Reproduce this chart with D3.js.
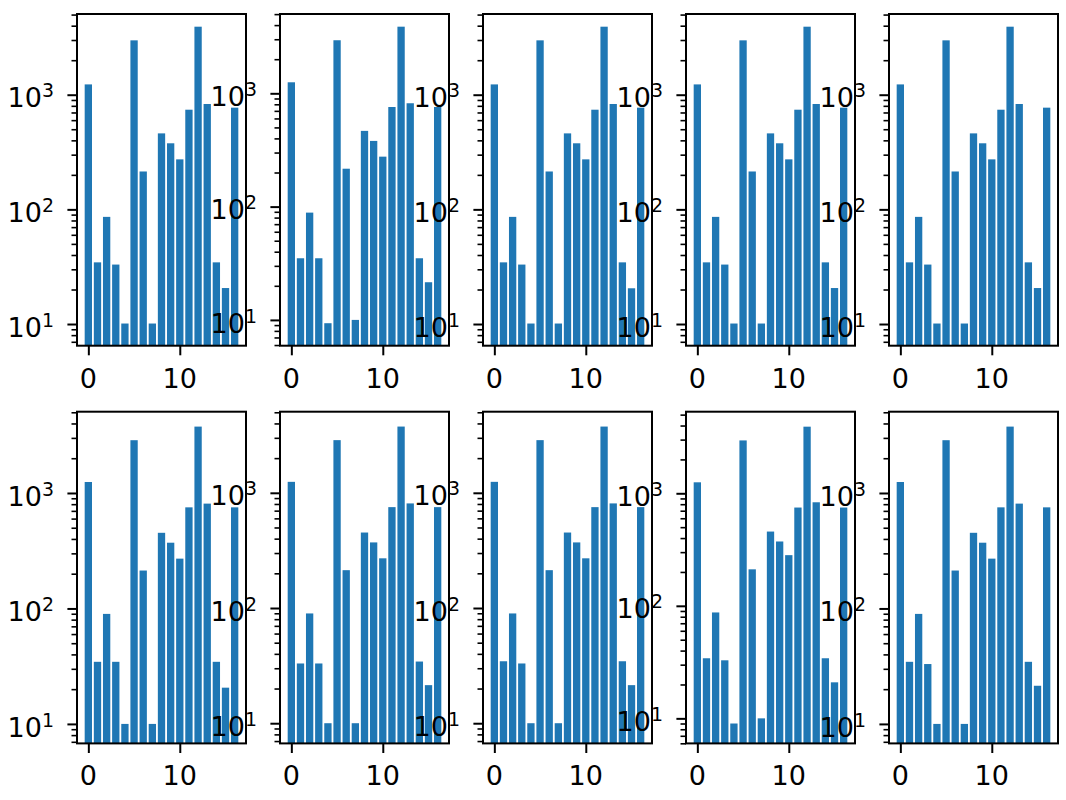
<!DOCTYPE html>
<html>
<head>
<meta charset="utf-8">
<script src="https://cdn.jsdelivr.net/npm/d3@7"></script>
<style>
  html, body { margin: 0; padding: 0; background: #ffffff; }
  svg { display: block; }
  text { font-family: "DejaVu Sans", sans-serif; fill: #000; }
</style>
</head>
<body>
<svg id="chart" width="1066" height="800"></svg>
<script>
// ---------------- data ----------------
const categories = [0, 1, 2, 3, 4, 5, 6, 7, 8, 9, 10, 11, 12, 13, 14, 15, 16];

const panel1  = [1230, 34.5, 86, 33, 10.1, 2980, 214, 10.1, 460, 377, 273, 740, 3920, 830, 34.5, 20.6, 771];
const panel2  = [1251, 35, 88.5, 35, 9.35, 2940, 216, 10, 466, 380, 276, 757, 3873, 817, 35, 21.5, 757];
const panel3  = [1230, 34.5, 86, 33, 10.1, 2980, 214, 10.1, 460, 377, 273, 740, 3920, 830, 34.5, 20.5, 771];
const panel4  = [1230, 34.5, 86, 33, 10.1, 2980, 214, 10.1, 460, 377, 273, 740, 3920, 830, 34.5, 20.6, 771];
const panel5  = [1230, 34.5, 86, 33, 10.1, 2980, 214, 10.1, 460, 377, 273, 740, 3920, 830, 34.5, 20.6, 771];
const panel6  = [1245, 34.5, 89.7, 34.5, 10, 2865, 213, 10, 452, 371, 270, 751, 3758, 809, 34.5, 20.6, 751];
const panel7  = [1245, 33, 89.7, 33, 10, 2865, 213, 10, 452, 371, 270, 751, 3758, 809, 34.3, 21.4, 751];
const panel8  = [1245, 34.5, 89.7, 33, 10, 2865, 213, 10, 452, 371, 270, 751, 3758, 809, 34.5, 21.4, 751];
const panel9  = [1252, 34.2, 87.3, 32.8, 9.0, 2950, 211, 10, 457, 373, 282, 747, 3908, 832, 34.2, 20.9, 747];
const panel10 = [1245, 34.5, 89.7, 33, 10, 2865, 213, 10, 452, 371, 270, 751, 3758, 809, 34.5, 21.4, 751];

const panels = [panel1, panel2, panel3, panel4, panel5, panel6, panel7, panel8, panel9, panel10];

// y-axis limits (log scale) of each panel
const yMins = [6.47, 5.92, 6.47, 6.47, 6.47, 6.78, 6.68, 6.68, 5.99, 6.78];
const yMaxs = [5058, 5012, 5058, 5058, 5058, 5058, 5058, 5058, 5309, 5058];

const xTicks = [0, 10];
const xTickLabels = ["0", "10"];
const yMajorTicks = [10, 100, 1000];
const yMajorExponents = ["1", "2", "3"];
const yMinorMantissas = [2, 3, 4, 5, 6, 7, 8, 9];
const yMinorDecades = [1, 10, 100, 1000];
const barWidth = 0.8;
const xDomain = [-1.24, 17.24];

// ---------------- layout ----------------
const nCols = 5;
const colLeft0 = 77, colStep = 203, axW = 169;
const rowTops = [14, 411.7], axH = 331.7;
const fontSize = 27;
const majorLen = 9.6, minorLen = 5.5;
const barColor = "#1f77b4";

const svg = d3.select("#chart");

panels.forEach((vals, i) => {
  const col = i % nCols, row = Math.floor(i / nCols);
  const g = svg.append("g")
    .attr("transform", `translate(${colLeft0 + col * colStep},${rowTops[row]})`);

  const x = d3.scaleLinear().domain(xDomain).range([0, axW]);
  const y = d3.scaleLog().domain([yMins[i], yMaxs[i]]).range([axH, 0]);

  const clipId = "clip" + i;
  g.append("clipPath").attr("id", clipId)
    .append("rect").attr("x", 0).attr("y", 0).attr("width", axW).attr("height", axH);

  // bars
  g.append("g").attr("clip-path", `url(#${clipId})`)
    .selectAll("rect").data(categories)
    .join("rect")
    .attr("x", c => x(c - barWidth / 2))
    .attr("width", x(barWidth) - x(0))
    .attr("y", c => y(vals[c]))
    .attr("height", c => axH - y(vals[c]))
    .attr("fill", barColor);

  // minor y ticks
  const minors = [];
  yMinorDecades.forEach(d => yMinorMantissas.forEach(m => {
    const v = m * d;
    if (v >= yMins[i] && v <= yMaxs[i]) minors.push(v);
  }));
  const minorAxis = g.append("g")
    .call(d3.axisLeft(y).tickValues(minors).tickSize(minorLen).tickFormat(""));
  minorAxis.select(".domain").remove();
  minorAxis.selectAll("line").attr("stroke", "#000").attr("stroke-width", 1.6);

  // major y ticks
  const majors = yMajorTicks.filter(v => v >= yMins[i] && v <= yMaxs[i]);
  const majorAxis = g.append("g")
    .call(d3.axisLeft(y).tickValues(majors).tickSize(majorLen).tickFormat(""));
  majorAxis.select(".domain").remove();
  majorAxis.selectAll("line").attr("stroke", "#000").attr("stroke-width", 2);

  // y tick labels 10^k
  yMajorTicks.forEach((v, k) => {
    if (v < yMins[i] || v > yMaxs[i]) return;
    const t = g.append("text")
      .attr("x", -23)
      .attr("y", y(v) + 12.6)
      .attr("text-anchor", "end")
      .attr("font-size", fontSize);
    t.append("tspan").text("10");
    t.append("tspan").attr("font-size", fontSize * 0.7).attr("dy", -10).text(yMajorExponents[k]);
  });

  // x ticks
  const xAxis = g.append("g").attr("transform", `translate(0,${axH})`)
    .call(d3.axisBottom(x).tickValues(xTicks).tickSize(majorLen).tickFormat(""));
  xAxis.select(".domain").remove();
  xAxis.selectAll("line").attr("stroke", "#000").attr("stroke-width", 2);

  g.selectAll(".xlab").data(xTicks).join("text")
    .attr("class", "xlab")
    .attr("x", d => x(d))
    .attr("y", axH + 42)
    .attr("text-anchor", "middle")
    .attr("font-size", fontSize)
    .text((d, j) => xTickLabels[j]);

  // frame
  g.append("rect")
    .attr("x", 0).attr("y", 0).attr("width", axW).attr("height", axH)
    .attr("fill", "none").attr("stroke", "#000").attr("stroke-width", 2);
});
</script>
</body>
</html>
